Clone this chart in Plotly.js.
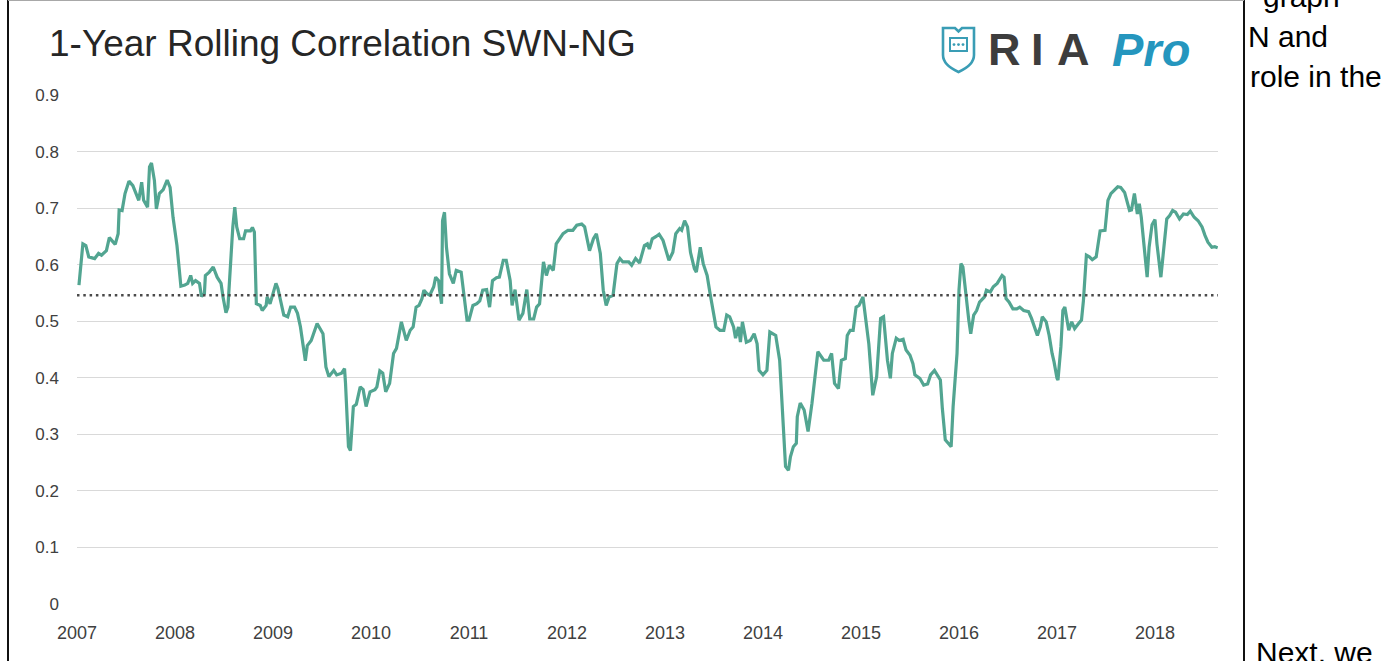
<!DOCTYPE html>
<html>
<head>
<meta charset="utf-8">
<script src="https://cdn.plot.ly/plotly-3.0.1.min.js"></script>
<style>
html,body{margin:0;padding:0;background:#fff;overflow:hidden}
#chart{width:1393px;height:661px}
</style>
</head>
<body>
<div id="chart"></div>
<script>
// ---------- DATA ----------
const chartTitle = '1-Year Rolling Correlation SWN-NG';

// decimal years
const dates = [
  2007.02,2007.06,2007.09,2007.12,2007.18,2007.22,2007.25,2007.30,2007.33,2007.39,2007.42,2007.43,2007.46,2007.49,2007.53,2007.57,2007.63,2007.66,2007.68,2007.72,2007.74,2007.76,2007.79,2007.81,2007.84,2007.88,2007.92,2007.95,2007.98,
  2008.01,2008.02,2008.06,2008.10,2008.13,2008.16,2008.18,2008.21,2008.25,2008.27,2008.30,2008.31,2008.35,2008.39,2008.43,2008.47,2008.49,2008.52,2008.54,2008.57,2008.59,2008.61,2008.63,2008.66,2008.70,2008.72,2008.77,2008.79,2008.81,2008.83,2008.87,2008.89,2008.93,2008.94,2008.97,
  2009.00,2009.03,2009.05,2009.11,2009.15,2009.18,2009.22,2009.25,2009.28,2009.33,2009.35,2009.39,2009.45,2009.51,2009.54,2009.57,2009.62,2009.65,2009.70,2009.73,2009.74,2009.77,2009.79,2009.82,2009.85,2009.89,2009.92,2009.95,2009.99,
  2010.04,2010.06,2010.09,2010.12,2010.15,2010.19,2010.23,2010.26,2010.31,2010.36,2010.40,2010.43,2010.46,2010.49,2010.52,2010.54,2010.57,2010.60,2010.64,2010.66,2010.69,2010.70,2010.72,2010.73,2010.75,2010.77,2010.80,2010.84,2010.87,2010.92,2010.94,2010.98,
  2011.00,2011.04,2011.08,2011.11,2011.14,2011.18,2011.21,2011.24,2011.28,2011.31,2011.35,2011.38,2011.42,2011.44,2011.47,2011.51,2011.55,2011.59,2011.62,2011.66,2011.69,2011.72,2011.76,2011.79,2011.82,2011.86,2011.89,2011.93,2011.96,
  2012.01,2012.06,2012.10,2012.15,2012.18,2012.23,2012.27,2012.30,2012.34,2012.37,2012.40,2012.43,2012.47,2012.51,2012.54,2012.57,2012.63,2012.66,2012.70,2012.74,2012.79,2012.82,2012.84,2012.87,2012.91,2012.94,2012.98,
  2013.02,2013.04,2013.08,2013.11,2013.15,2013.17,2013.20,2013.23,2013.26,2013.30,2013.32,2013.36,2013.39,2013.43,2013.46,2013.49,2013.52,2013.56,2013.60,2013.63,2013.66,2013.70,2013.72,2013.75,2013.77,2013.79,2013.83,2013.87,2013.91,2013.94,2013.96,
  2014.00,2014.04,2014.07,2014.11,2014.13,2014.17,2014.20,2014.23,2014.26,2014.28,2014.31,2014.34,2014.35,2014.38,2014.42,2014.46,2014.50,2014.53,2014.56,2014.62,2014.67,2014.70,2014.73,2014.77,2014.80,2014.84,2014.86,2014.89,2014.92,2014.95,2014.98,
  2015.02,2015.05,2015.08,2015.12,2015.16,2015.20,2015.23,2015.27,2015.30,2015.32,2015.36,2015.39,2015.43,2015.46,2015.50,2015.53,2015.55,2015.60,2015.64,2015.68,2015.71,2015.75,2015.78,2015.81,2015.83,2015.86,2015.89,2015.92,2015.94,2015.98,
  2016.00,2016.02,2016.04,2016.07,2016.10,2016.12,2016.15,2016.18,2016.21,2016.26,2016.28,2016.32,2016.35,2016.39,2016.44,2016.46,2016.48,2016.51,2016.55,2016.59,2016.62,2016.66,2016.71,2016.74,2016.78,2016.80,2016.83,2016.85,2016.89,2016.92,2016.95,2016.97,
  2017.00,2017.01,2017.04,2017.06,2017.08,2017.12,2017.15,2017.18,2017.22,2017.25,2017.27,2017.30,2017.33,2017.36,2017.40,2017.44,2017.49,2017.52,2017.55,2017.58,2017.62,2017.65,2017.69,2017.74,2017.76,2017.79,2017.82,2017.84,2017.86,2017.89,2017.92,2017.94,2017.97,
  2018.00,2018.02,2018.06,2018.09,2018.12,2018.15,2018.18,2018.21,2018.25,2018.29,2018.33,2018.36,2018.40,2018.44,2018.48,2018.51,2018.54,2018.58,2018.61,2018.64
];

const correlation = [
  0.564,0.637,0.634,0.614,0.611,0.620,0.617,0.625,0.648,0.636,0.655,0.697,0.696,0.726,0.748,0.740,0.714,0.746,0.714,0.702,0.773,0.780,0.749,0.699,0.726,0.733,0.750,0.737,0.684,
  0.640,0.634,0.562,0.564,0.567,0.581,0.567,0.572,0.567,0.544,0.549,0.581,0.587,0.596,0.578,0.567,0.543,0.515,0.525,0.625,0.667,0.702,0.667,0.646,0.646,0.660,0.660,0.666,0.658,0.531,0.528,0.519,0.528,0.543,0.531,
  0.549,0.567,0.558,0.511,0.508,0.525,0.525,0.514,0.490,0.430,0.457,0.466,0.496,0.478,0.419,0.402,0.413,0.405,0.408,0.416,0.390,0.278,0.271,0.349,0.353,0.384,0.379,0.349,0.375,
  0.379,0.384,0.412,0.408,0.375,0.390,0.443,0.452,0.499,0.466,0.484,0.490,0.525,0.528,0.540,0.555,0.549,0.546,0.561,0.578,0.572,0.555,0.531,0.678,0.693,0.631,0.584,0.567,0.590,0.587,0.555,0.502,
  0.502,0.528,0.531,0.536,0.555,0.556,0.525,0.572,0.577,0.578,0.608,0.608,0.572,0.528,0.556,0.502,0.514,0.556,0.504,0.504,0.525,0.531,0.605,0.581,0.599,0.590,0.637,0.646,0.655,
  0.661,0.661,0.670,0.672,0.667,0.625,0.646,0.655,0.620,0.555,0.528,0.543,0.546,0.602,0.611,0.605,0.605,0.599,0.611,0.603,0.634,0.637,0.628,0.646,0.650,0.654,0.643,
  0.617,0.608,0.622,0.655,0.664,0.661,0.678,0.667,0.622,0.593,0.587,0.631,0.602,0.581,0.549,0.519,0.490,0.484,0.484,0.511,0.508,0.490,0.470,0.490,0.463,0.499,0.463,0.466,0.478,0.460,0.413,
  0.405,0.413,0.481,0.478,0.475,0.431,0.337,0.243,0.236,0.260,0.278,0.284,0.331,0.355,0.343,0.305,0.355,0.402,0.446,0.431,0.431,0.443,0.390,0.381,0.431,0.434,0.475,0.484,0.484,0.525,0.528,
  0.543,0.496,0.460,0.369,0.402,0.505,0.508,0.431,0.399,0.443,0.470,0.466,0.468,0.449,0.440,0.425,0.405,0.399,0.387,0.389,0.405,0.413,0.405,0.396,0.346,0.290,0.284,0.278,0.349,0.443,
  0.555,0.602,0.596,0.543,0.502,0.478,0.511,0.519,0.534,0.543,0.555,0.552,0.561,0.567,0.581,0.578,0.540,0.534,0.522,0.522,0.525,0.519,0.517,0.505,0.484,0.475,0.490,0.508,0.499,0.475,0.443,0.428,
  0.399,0.396,0.455,0.519,0.525,0.484,0.499,0.487,0.496,0.502,0.537,0.617,0.614,0.609,0.614,0.660,0.661,0.714,0.726,0.731,0.738,0.737,0.728,0.696,0.697,0.726,0.690,0.708,0.684,0.631,0.578,0.631,0.671,
  0.680,0.637,0.578,0.631,0.681,0.687,0.696,0.693,0.681,0.690,0.689,0.695,0.684,0.678,0.667,0.652,0.640,0.631,0.632,0.630
];

const meanCorrelation = 0.546;           // dotted average line
const xRange = [2007, 2018.643];
const yRange = [-0.0005, 0.9005];

const tickYears  = [2007,2008,2009,2010,2011,2012,2013,2014,2015,2016,2017,2018];
const tickLabels = ['2007','2008','2009','2010','2011','2012','2013','2014','2015','2016','2017','2018'];
const yTickVals  = [0,0.1,0.2,0.3,0.4,0.5,0.6,0.7,0.8,0.9];

const logoWord = ['R','I','A'];
const logoPro = 'Pro';
const articleLines = ['graph', 'N and', 'role in the', 'Next, we'];

// ---------- LAYOUT HELPERS (pixel -> paper) ----------
const W = 1393, H = 661;
const PL = 77, PR = 1218, PT = 95, PB = 604;
const px = x => (x - PL) / (PR - PL);
const py = y => (PB - y) / (PB - PT);
const P = (x, y) => px(x).toFixed(5) + ',' + py(y).toFixed(5);

const FONT = '"Liberation Sans", Arial, sans-serif';
const lineColor = '#52a591';
const logoTeal = '#3a9db5';

const traces = [{
  type: 'scatter', mode: 'lines',
  x: dates, y: correlation,
  line: {color: lineColor, width: 3.2},
  hoverinfo: 'skip', showlegend: false, cliponaxis: false
}];

const shapes = [
  // dotted average line
  {type:'line', xref:'x', yref:'y', x0:xRange[0], x1:xRange[1], y0:meanCorrelation, y1:meanCorrelation,
   line:{color:'#4a4a4a', width:2.5, dash:'2.5px,3.8px'}, layer:'above'},
  // frame
  {type:'line', xref:'paper', yref:'paper', x0:px(8), x1:px(8), y0:py(0), y1:py(H), line:{color:'#111', width:2}},
  {type:'line', xref:'paper', yref:'paper', x0:px(1244), x1:px(1244), y0:py(0), y1:py(H), line:{color:'#111', width:2}},
  {type:'line', xref:'paper', yref:'paper', x0:px(8), x1:px(1244), y0:py(0.5), y1:py(0.5), line:{color:'#a8a8a8', width:1}},
  // logo shield
  {type:'path', xref:'paper', yref:'paper',
   path:'M'+P(943,28)+' L'+P(955,28)+' L'+P(958.5,31.5)+' L'+P(962,28)+' L'+P(974,28)+' L'+P(974,55)+
        ' Q'+P(974,65)+' '+P(958.5,72)+' Q'+P(943,65)+' '+P(943,55)+' Z',
   line:{color:logoTeal, width:2.6}, fillcolor:'rgba(0,0,0,0)'},
  {type:'path', xref:'paper', yref:'paper',
   path:'M'+P(950,38)+' L'+P(967,38)+' L'+P(967,51)+' L'+P(950,51)+' Z',
   line:{color:logoTeal, width:2}, fillcolor:'rgba(0,0,0,0)'},
  {type:'circle', xref:'paper', yref:'paper', x0:px(952.6), x1:px(955.4), y0:py(43.2), y1:py(46), fillcolor:logoTeal, line:{width:0}},
  {type:'circle', xref:'paper', yref:'paper', x0:px(957.1), x1:px(959.9), y0:py(43.2), y1:py(46), fillcolor:logoTeal, line:{width:0}},
  {type:'circle', xref:'paper', yref:'paper', x0:px(961.6), x1:px(964.4), y0:py(43.2), y1:py(46), fillcolor:logoTeal, line:{width:0}}
];

const logoCenters = [1004, 1037, 1073];
const annotations = [];
logoWord.forEach((ch, i) => annotations.push({
  xref:'paper', yref:'paper', x:px(logoCenters[i]), y:py(49.5), xanchor:'center', yanchor:'middle',
  text:'<b>'+ch+'</b>', showarrow:false, font:{family:FONT, size:45, color:'#3d3d3d'}
}));
annotations.push({
  xref:'paper', yref:'paper', x:px(1110), y:py(49.5), xanchor:'left', yanchor:'middle',
  text:'<b><i>'+logoPro+'</i></b>', showarrow:false, font:{family:FONT, size:47, color:'#2596be'}
});
const articlePos = [[1261,-3.5],[1246,36.5],[1248,76.5],[1254,652]];
articleLines.forEach((t, i) => annotations.push({
  xref:'paper', yref:'paper', x:px(articlePos[i][0]), y:py(articlePos[i][1]), xanchor:'left', yanchor:'middle',
  text:t, showarrow:false, font:{family:FONT, size:30, color:'#000'}
}));

const layout = {
  width: W, height: H,
  margin: {l: PL, r: W - PR, t: PT, b: H - PB, pad: 0},
  paper_bgcolor: '#fff', plot_bgcolor: '#fff',
  showlegend: false, hovermode: false,
  title: {text: chartTitle, xref:'container', yref:'container', x: 49/W, y: 1 - 43/H,
          xanchor:'left', yanchor:'middle', font:{family:FONT, size:37, color:'#262626'}},
  xaxis: {type:'linear', range: xRange, tickmode:'array', tickvals: tickYears, ticktext: tickLabels,
          showgrid:false, zeroline:false, showline:false, ticks:'', ticklabelstandoff: 16,
          tickfont:{family:FONT, size:18, color:'#404040'}, fixedrange:true},
  yaxis: {range: yRange, tickmode:'array', tickvals: yTickVals,
          ticktext: yTickVals.map(v => String(v)),
          showgrid:true, gridcolor:'#d9d9d9', gridwidth:1, zeroline:false, showline:false, ticks:'',
          ticklabelstandoff: 17, tickfont:{family:FONT, size:17, color:'#404040'}, fixedrange:true},
  shapes: shapes,
  annotations: annotations
};

Plotly.newPlot('chart', traces, layout, {displayModeBar:false, staticPlot:true});
</script>
</body>
</html>
